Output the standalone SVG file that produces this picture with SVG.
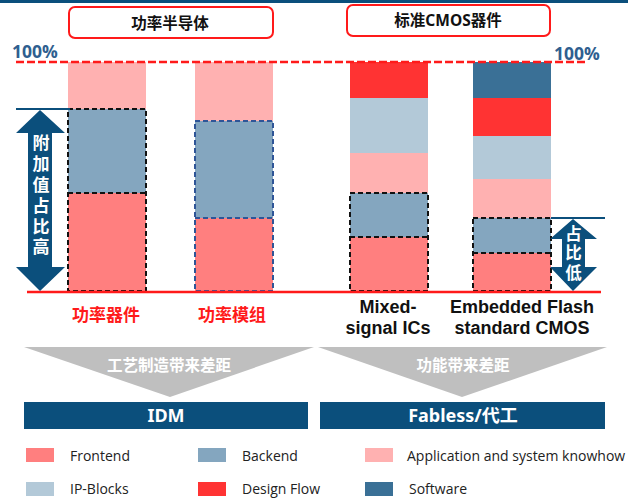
<svg xmlns="http://www.w3.org/2000/svg" width="638" height="499" viewBox="0 0 638 499">
<style>
.fe{fill:#FF7F7F}.be{fill:#84A6BF}.ap{fill:#FFB1B1}.ip{fill:#B3C9D8}.df{fill:#FF3333}.sw{fill:#3A7096}
.cjk{font-family:"Noto Sans","Noto Sans CJK SC",sans-serif;font-weight:bold}
.hd{font-size:15.5px;fill:#111;text-anchor:middle}
.pct{font-family:"Open Sans","Noto Sans",sans-serif;font-weight:bold;font-size:17.5px;fill:#2F5F8F}
.dash{fill:none;stroke:#111;stroke-width:2;stroke-dasharray:5 3}
.dashb{fill:none;stroke:#2F5597;stroke-width:2;stroke-dasharray:5 3}
.red{font-size:17px;fill:#FF1A1A;text-anchor:middle}
.cat{font-family:"Liberation Sans",Arial,sans-serif;font-weight:bold;font-size:18px;fill:#111;text-anchor:middle}
.vt{fill:#fff;writing-mode:vertical-rl}
.gt{font-size:15.5px;fill:#fff;text-anchor:middle}
.bt{font-size:18px;fill:#fff;text-anchor:middle}
.lg{font-family:"Open Sans","Noto Sans",sans-serif;font-size:14px;fill:#222}
.arr{fill:#0B4F7C}
</style>
<rect x="0" y="0" width="628" height="3" fill="#0B4F7C"/>

<g id="header-power">
<rect x="69" y="7" width="204" height="31" rx="6" fill="#fff" stroke="#FF1A1A" stroke-width="2"/>
<text class="cjk hd" x="170" y="28.5">功率半导体</text>
</g>
<g id="header-cmos">
<rect x="347" y="5" width="203" height="31" rx="6" fill="#fff" stroke="#FF1A1A" stroke-width="2"/>
<text class="cjk hd" x="448" y="26">标准CMOS器件</text>
</g>

<text class="pct" x="12" y="58">100%</text>
<text class="pct" x="554" y="60">100%</text>

<g id="bar-power-device">
<rect class="ap" x="68" y="62" width="78" height="47"/>
<rect class="be" x="68" y="109" width="78" height="84"/>
<rect class="fe" x="68" y="193" width="78" height="98"/>
<rect class="dash" x="68" y="109" width="78" height="182"/>
<line class="dash" x1="68" y1="193" x2="146" y2="193"/>
</g>
<g id="bar-power-module">
<rect class="ap" x="195" y="62" width="78" height="59"/>
<rect class="be" x="195" y="121" width="78" height="97"/>
<rect class="fe" x="195" y="218" width="78" height="73"/>
<rect class="dashb" x="195" y="121" width="78" height="170"/>
<line class="dashb" x1="195" y1="218" x2="273" y2="218"/>
</g>
<g id="bar-mixed-signal">
<rect class="df" x="350" y="62" width="78" height="36"/>
<rect class="ip" x="350" y="98" width="78" height="55"/>
<rect class="ap" x="350" y="153" width="78" height="40"/>
<rect class="be" x="350" y="193" width="78" height="44"/>
<rect class="fe" x="350" y="237" width="78" height="54"/>
<rect class="dash" x="350" y="193" width="78" height="98"/>
<line class="dash" x1="350" y1="237" x2="428" y2="237"/>
</g>
<g id="bar-embedded-flash">
<rect class="sw" x="473" y="62" width="78" height="36"/>
<rect class="df" x="473" y="98" width="78" height="38"/>
<rect class="ip" x="473" y="136" width="78" height="43"/>
<rect class="ap" x="473" y="179" width="78" height="39"/>
<rect class="be" x="473" y="218" width="78" height="35"/>
<rect class="fe" x="473" y="253" width="78" height="38"/>
<rect class="dash" x="473" y="218" width="78" height="73"/>
<line class="dash" x1="473" y1="253" x2="551" y2="253"/>
</g>

<g id="connectors">
<line x1="16" y1="62" x2="587" y2="62" stroke="#FF1A1A" stroke-width="2.5" stroke-dasharray="8 3"/>
<line x1="27" y1="292" x2="601" y2="292" stroke="#FF1A1A" stroke-width="2.5"/>
<line x1="16" y1="109" x2="70" y2="109" stroke="#0B4F7C" stroke-width="2"/>
<line x1="551" y1="218" x2="605" y2="218" stroke="#0B4F7C" stroke-width="2"/>
</g>

<g id="arrow-high">
<polygon class="arr" points="40,110 65,133 52,133 52,267 65,267 40,291 16,267 28,267 28,133 16,133"/>
<text class="cjk vt" x="40" y="134.5" style="font-size:17px;letter-spacing:3.8px">附加值占比高</text>
</g>
<g id="arrow-low">
<polygon class="arr" points="573,219 597,239 585,239 585,267 597,267 573,291 550,267 562,267 562,239 550,239"/>
<text class="cjk vt" x="573" y="225" style="font-size:16.5px;letter-spacing:3px">占比低</text>
</g>

<text class="cjk red" x="106" y="321">功率器件</text>
<text class="cjk red" x="232" y="321">功率模组</text>
<text class="cat" x="388" y="313"><tspan x="388" y="313">Mixed-</tspan><tspan x="388" y="334">signal ICs</tspan></text>
<text class="cat" x="522" y="313"><tspan x="522" y="313">Embedded Flash</tspan><tspan x="522" y="334">standard CMOS</tspan></text>

<g id="gap-process">
<polygon points="24,347 314,347 170,397" fill="#BFBFBF"/>
<text class="cjk gt" x="169" y="371">工艺制造带来差距</text>
</g>
<g id="gap-function">
<polygon points="318,347 607,347 462,397" fill="#BFBFBF"/>
<text class="cjk gt" x="463" y="371">功能带来差距</text>
</g>

<g id="idm">
<rect x="24" y="402" width="284" height="27" fill="#0B4F7C"/>
<text class="cjk bt" x="166" y="422">IDM</text>
</g>
<g id="fabless">
<rect x="320" y="402" width="285" height="27" fill="#0B4F7C"/>
<text class="cjk bt" x="463" y="422">Fabless/代工</text>
</g>

<g id="legend">
<rect class="fe" x="26" y="448" width="28" height="14"/><text class="lg" x="70" y="461">Frontend</text>
<rect class="be" x="198" y="448" width="28" height="14"/><text class="lg" x="242" y="461">Backend</text>
<rect class="ap" x="365" y="448" width="28" height="14"/><text class="lg" x="407" y="461">Application and system knowhow</text>
<rect class="ip" x="26" y="482" width="28" height="14"/><text class="lg" x="70" y="494">IP-Blocks</text>
<rect class="df" x="198" y="482" width="28" height="14"/><text class="lg" x="242" y="494">Design Flow</text>
<rect class="sw" x="365" y="482" width="28" height="14"/><text class="lg" x="409" y="494">Software</text>
</g>
</svg>
